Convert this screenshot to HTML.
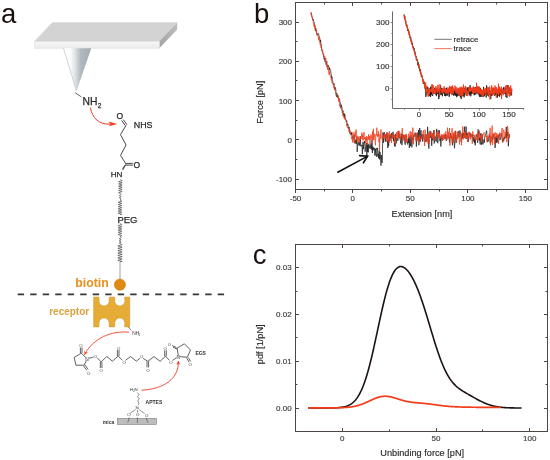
<!DOCTYPE html>
<html><head><meta charset="utf-8">
<style>
html,body{margin:0;padding:0;background:#fff;}
body{width:550px;height:460px;overflow:hidden;}
svg{display:block;font-family:"Liberation Sans",sans-serif;will-change:transform;filter:blur(0.3px);}
</style></head>
<body>
<svg width="550" height="460" viewBox="0 0 550 460">
<defs>
<linearGradient id="tipg" x1="63.5" y1="0" x2="91.3" y2="0" gradientUnits="userSpaceOnUse">
<stop offset="0" stop-color="#ffffff"/>
<stop offset="0.26" stop-color="#fbfbfb"/>
<stop offset="0.44" stop-color="#d9dfe1"/>
<stop offset="0.62" stop-color="#b0b9bd"/>
<stop offset="1" stop-color="#a2acb1"/>
</linearGradient>
<linearGradient id="sideg" x1="0" y1="0" x2="1" y2="0">
<stop offset="0" stop-color="#a4a4a4"/>
<stop offset="1" stop-color="#bdbdbd"/>
</linearGradient>
<linearGradient id="frontg" x1="0" y1="0" x2="0" y2="1">
<stop offset="0" stop-color="#f6f6f6"/>
<stop offset="1" stop-color="#ebebeb"/>
</linearGradient>
<marker id="ahr" viewBox="0 0 10 10" refX="9" refY="5" markerWidth="4.5" markerHeight="4.5" orient="auto">
<path d="M0,0 L10,5 L0,10 L3,5 z" fill="#f0402a"/>
</marker>
<marker id="ahk" viewBox="0 0 10 10" refX="9" refY="5" markerWidth="5" markerHeight="5" orient="auto">
<path d="M0,0 L10,5 L0,10 L3,5 z" fill="#111"/>
</marker>
</defs>

<!-- ================= PANEL A ================= -->
<text x="0.9" y="23.1" font-size="27.5" fill="#1a1010">a</text>

<!-- cantilever -->
<polygon points="34.6,41.4 52.2,22.7 177.2,22.7 159.3,41.4" fill="#d3d3d3" stroke="#c8c8c8" stroke-width="0.5"/>
<polygon points="159.3,41.4 177.2,22.7 177.2,29.6 159.3,48.2" fill="url(#sideg)"/>
<rect x="34.6" y="41.4" width="124.7" height="6.8" fill="url(#frontg)" stroke="#dcdcdc" stroke-width="0.5"/>
<!-- tip -->
<polygon points="63.5,48.2 91.3,48.2 76.5,91" fill="url(#tipg)"/>
<line x1="63.5" y1="48.2" x2="76.5" y2="91" stroke="#b8b8b8" stroke-width="0.6"/>

<g stroke="#3a3a3a" stroke-width="0.8" fill="none">
<line x1="75.2" y1="92.8" x2="81.4" y2="96.9"/>
</g>
<g fill="#2a2a2a" stroke="#2a2a2a" stroke-width="0.25">
<text x="82.5" y="105.2" font-size="10.3">NH</text>
<text x="97.7" y="108.2" font-size="6.6">2</text>
</g>
<!-- red arrow 1 -->
<path d="M90.3,107.5 C92.5,118 98.5,124.6 110,124.1" stroke="#f23c22" stroke-width="1" fill="none"/><path d="M117.3,123.9 L108.4,121.6 L110.6,124 L108.8,126.3 Z" fill="#f23c22"/>

<!-- NHS ester chain -->
<g fill="#2a2a2a" stroke="#2a2a2a" stroke-width="0.25">
<text x="116.4" y="118.7" font-size="8.5">O</text>
<text x="133.8" y="128.4" font-size="8.9">NHS</text>
<text x="133.4" y="168.3" font-size="8.5">O</text>
<text x="110.7" y="177.3" font-size="8.1">HN</text>
<text x="117.4" y="222.8" font-size="9.5">PEG</text>
</g>
<g stroke="#333" stroke-width="0.9" fill="none" stroke-linejoin="round">
<path d="M121.6,120.4 L125.2,125.4"/>
<path d="M123.3,119.6 L126.9,124.6"/>
<path d="M126.1,125.3 L120.5,134.6 L126.1,145 L120.5,155.4 L126.1,164.1 L122.6,170.2"/>
<path d="M126.1,163.4 L132.8,163.4"/>
<path d="M126.1,165.1 L132.8,165.1"/>
<path d="M122.4,168.6 L125.4,165"/>
</g>
<!-- PEG zigzag -->
<path d="M120.4,179.5 L122.2,180.6 L118.6,181.7 L122.2,182.8 L118.6,183.9 L122.2,185 L118.6,186.1 L122.2,187.2 L118.6,188.3 L122.2,189.4 L118.6,190.5 L122.2,191.6 L118.6,192.7 L120.4,193.5 M120.2,193.5 L121.1,194.6 L119.3,195.7 L121.1,196.8 L119.3,197.9 L121.1,199 L120.2,200 M120,200 L121.8,201.1 L118.2,202.2 L121.8,203.3 L118.2,204.4 L121.8,205.5 L118.2,206.6 L121.8,207.7 L118.2,208.8 L121.8,209.9 L118.2,211 L121.8,212.1 L118.2,213.2 L121.8,214.3 L120,214.5 M120,223.5 L121.8,224.6 L118.2,225.7 L121.8,226.8 L118.2,227.9 L121.8,229 L118.2,230.1 L121.8,231.2 L118.2,232.3 L121.8,233.4 L118.2,234.5 L121.8,235.6 L120,236.5 M120.2,236.5 L121.2,237.6 L119.2,238.7 L121.2,239.8 L119.2,240.9 L121.2,242 L119.2,243.1 L120.2,243.5 M120,243.5 L122.2,244.7 L117.8,245.9 L122.2,247.1 L117.8,248.3 L122.2,249.5 L117.8,250.7 L122.2,251.9 L117.8,253.1 L122.2,254.3 L117.8,255.5 L122.2,256.7 L117.8,257.9 L122.2,259.1 L117.8,260.3 L122.2,261.5 L120,261.5" stroke="#333" stroke-width="0.6" fill="none"/>
<line x1="120" y1="261.5" x2="120" y2="279.5" stroke="#a0a0a0" stroke-width="1"/>

<!-- biotin -->
<text x="75.3" y="286.8" font-size="12.3" font-weight="bold" fill="#e8901a">biotin</text>
<circle cx="119.9" cy="284.7" r="5.6" fill="#e08a14" stroke="#cf7d10" stroke-width="0.6"/>

<!-- dashed line -->
<line x1="17.7" y1="294.4" x2="224.2" y2="294.4" stroke="#3b3533" stroke-width="1.8" stroke-dasharray="6.4 6.1"/>

<!-- receptor -->
<text x="49.2" y="315.2" font-size="10" font-weight="bold" fill="#d8a23e">receptor</text>
<path d="M93.7,297.1 H99 V301 A5.1,5.1 0 0 0 109.2,301 V297.1 H114.7 V301 A5.05,5.05 0 0 0 124.8,301 V297.1 H129.7 V326.9 H124.8 V323 A5.05,5.05 0 0 0 114.7,323 V326.9 H109.2 V323 A5.1,5.1 0 0 0 99,323 V326.9 H93.7 Z" fill="#e6ad36" stroke="#d39a24" stroke-width="0.6"/>
<line x1="128.4" y1="326.9" x2="131.2" y2="330.4" stroke="#333" stroke-width="0.6"/>
<text x="132.2" y="335" font-size="4.8" fill="#333">NH</text>
<text x="138.6" y="336.4" font-size="3.3" fill="#333">2</text>
<!-- red arrow 2 -->
<path d="M129,332.2 C112,330.5 93,338 84.6,354.6" stroke="#f0402a" stroke-width="0.9" fill="none" marker-end="url(#ahr)"/>

<!-- EGS molecule -->
<g stroke="#383838" stroke-width="0.8" fill="none" stroke-linejoin="round">
<!-- left ring -->
<path d="M87.4,359 L81.2,353.2 L74.2,357.4 L75.9,365.2 L84.1,365.2 Z"/>
<path d="M80.4,353 V347.4 M82,353 V347.4"/>
<path d="M83.6,366 L86.8,370.3 M85,365 L88.1,369.3"/>
<path d="M88.5,358.4 L93.6,357"/>
<path d="M97.2,357.8 L101.1,361.9 L106.8,356.5 L112.4,361.2 L118.2,356.1 L122.6,360.5"/>
<path d="M125.5,360.4 L130.5,356.5 L136.4,361.2 L140,358.2"/>
<path d="M143.2,358.4 L147.8,361.3 L154,356.6 L160.1,361.3 L165.5,356.2 L169.4,360.4"/>
<path d="M172.6,360.4 L177.3,357.2"/>
<path d="M100.3,362 V368 M101.9,362 V368"/>
<path d="M117.4,356 V350 M119,356 V350"/>
<path d="M147,361.4 V367.4 M148.6,361.4 V367.4"/>
<path d="M164.7,356.2 V350.2 M166.3,356.2 V350.2"/>
<!-- right ring -->
<path d="M178.5,356.5 L177.1,348.2 L184.4,343.8 L190.5,350 L187.3,357.3 Z"/>
<path d="M176.4,347.5 L172.2,345.6 M177.2,349.1 L173,347.2"/>
<path d="M186.8,358.3 L189.2,362.3 M188.3,357.6 L190.6,361.4"/>
</g>
<g fill="#3a3a3a" font-size="4.3" stroke="#fff" stroke-width="0.6" paint-order="stroke">
<text x="79.2" y="347.2">O</text>
<text x="87.1" y="375">O</text>
<text x="85.3" y="360.6" font-size="4.8">N</text>
<text x="93.6" y="358.4">O</text>
<text x="99.5" y="372.4">O</text>
<text x="116.9" y="350">O</text>
<text x="122.4" y="363.6">O</text>
<text x="140" y="358.4">O</text>
<text x="146.2" y="371.8">O</text>
<text x="163.5" y="349.7">O</text>
<text x="169.3" y="363.8">O</text>
<text x="176.6" y="359.1" font-size="4.8">N</text>
<text x="167.8" y="346.1">O</text>
<text x="188.6" y="366.4">O</text>
</g>
<text x="195.4" y="355" font-size="5" font-weight="bold" fill="#333">EGS</text>

<!-- red arrow 3 (APTES -> EGS) -->
<path d="M141.5,390.2 C165,389 179,378 178.3,361.2" stroke="#f0402a" stroke-width="0.9" fill="none" marker-end="url(#ahr)"/>

<!-- APTES -->
<rect x="117.4" y="418.3" width="39" height="6.2" fill="#bdbdbd" stroke="#808080" stroke-width="0.6"/>
<g fill="#333">
<text x="129.8" y="391.4" font-size="4.4">H</text>
<text x="133.1" y="392.4" font-size="3">2</text>
<text x="134.6" y="391.4" font-size="4.4">N</text>
<text x="135.3" y="409.4" font-size="4.4">Si</text>
<text x="145.6" y="404.3" font-size="5" font-weight="bold">APTES</text>
<text x="127.3" y="416.4" font-size="4.4">O</text>
<text x="135.9" y="416.4" font-size="4.4">O</text>
<text x="145" y="417" font-size="4.4">O</text>
<text x="102.8" y="423.6" font-size="5.1" font-weight="bold">mica</text>
</g>
<g stroke="#444" stroke-width="0.6" fill="none">
<path d="M137.3,392.5 L139,394.5 L137.5,396.6 L139.2,398.8 L137.8,401 L139,403.6 L138,405.2"/>
<path d="M135.5,409.6 L130.3,413.2 M137.5,410 V412.6 M139.2,409.6 L144.6,413.6"/>
<path d="M129.3,417.4 L127.8,422.5 M137.4,417.4 V423 M146.2,417.8 L147.8,422.8"/>
</g>


<!-- ================= PANEL B ================= -->
<text x="254" y="22.5" font-size="27.5" fill="#1a1010">b</text>
<rect x="295.5" y="2.5" width="252" height="187" fill="none" stroke="#4d4542" stroke-width="1"/>
<path d="M295.5,179.5 h3.5 M547.5,179.5 h-3.5 M295.5,159.5 h2 M547.5,159.5 h-2 M295.5,139.5 h3.5 M547.5,139.5 h-3.5 M295.5,120.5 h2 M547.5,120.5 h-2 M295.5,100.5 h3.5 M547.5,100.5 h-3.5 M295.5,80.5 h2 M547.5,80.5 h-2 M295.5,61.5 h3.5 M547.5,61.5 h-3.5 M295.5,41.5 h2 M547.5,41.5 h-2 M295.5,22.5 h3.5 M547.5,22.5 h-3.5 M295.5,2.5 v3.5 M295.5,189.5 v3.5 M324.5,2.5 v2 M324.5,189.5 v2 M352.5,2.5 v3.5 M352.5,189.5 v3.5 M381.5,2.5 v2 M381.5,189.5 v2 M410.5,2.5 v3.5 M410.5,189.5 v3.5 M439.5,2.5 v2 M439.5,189.5 v2 M467.5,2.5 v3.5 M467.5,189.5 v3.5 M496.5,2.5 v2 M496.5,189.5 v2 M525.5,2.5 v3.5 M525.5,189.5 v3.5" stroke="#4d4845" stroke-width="1" fill="none"/>
<g font-size="8" fill="#3a3a3a" stroke="#3a3a3a" stroke-width="0.15" text-anchor="end">
<text x="292" y="25.1">300</text>
<text x="292" y="64.4">200</text>
<text x="292" y="103.7">100</text>
<text x="292" y="143">0</text>
<text x="292" y="182.3">-100</text>
</g>
<g font-size="8" fill="#3a3a3a" stroke="#3a3a3a" stroke-width="0.15" text-anchor="middle">
<text x="295.5" y="201.3">-50</text>
<text x="352.8" y="201.3">0</text>
<text x="410.3" y="201.3">50</text>
<text x="467.9" y="201.3">100</text>
<text x="525.4" y="201.3">150</text>
</g>
<text x="422" y="216.6" font-size="9.2" fill="#2a2a2a" stroke="#2a2a2a" stroke-width="0.15" text-anchor="middle">Extension [nm]</text>
<text transform="translate(263.4,102.2) rotate(-90)" font-size="9.2" fill="#2a2a2a" stroke="#2a2a2a" stroke-width="0.15" text-anchor="middle">Force [pN]</text>

<polyline points="310.92,12.95 311.27,14.45 311.61,14.34 311.96,16.61 312.3,17.87 312.65,19.98 312.99,20.03 313.34,19.17 313.68,21.51 314.03,21.83 314.37,24.38 314.72,25.44 315.06,27.02 315.41,31.08 315.75,28.15 316.1,29.57 316.44,30.3 316.79,34.32 317.13,34.89 317.48,33.99 317.82,33.8 318.17,33.17 318.52,34.47 318.86,34.53 319.21,37.52 319.55,37.4 319.9,38.81 320.24,42.13 320.59,40.13 320.93,43.72 321.28,44.46 321.62,49.02 321.97,50.86 322.31,51.8 322.66,52.92 323,53.16 323.35,55.08 323.69,57.39 324.04,59.31 324.38,59.63 324.73,57.81 325.07,61.81 325.42,60.87 325.76,61.21 326.11,64.79 326.45,62.9 326.8,61.42 327.14,67.14 327.49,65.01 327.83,65.24 328.18,66.99 328.52,65.64 328.87,67.32 329.21,70.41 329.56,67.79 329.91,69.12 330.25,69.83 330.6,70.27 330.94,73.24 331.29,74.92 331.63,78.48 331.98,76.81 332.32,80.07 332.67,81.13 333.01,83.69 333.36,84.48 333.7,85.01 334.05,83.33 334.39,89.7 334.74,89.9 335.08,88.32 335.43,87.48 335.77,89.87 336.12,94.78 336.46,96.76 336.81,93.23 337.15,95.94 337.5,97.54 337.84,95.23 338.19,96.03 338.53,98.51 338.88,99.37 339.22,100.07 339.57,99.26 339.91,101.8 340.26,102.96 340.6,103.93 340.95,108.26 341.3,104.8 341.64,106.32 341.99,108 342.33,112.94 342.68,111.84 343.02,110.52 343.37,115.69 343.71,114.13 344.06,113.24 344.4,117.89 344.75,114.29 345.09,116.94 345.44,119.03 345.78,119.26 346.13,119.73 346.47,121.53 346.82,120.89 347.16,124.7 347.51,125.28 347.85,123.95 348.2,126.5 348.54,128.87 348.89,126.95 349.23,127.07 349.58,131.01 349.92,133.68 350.27,132.99 350.61,132.89 350.96,134.5 351.3,134.88 351.65,132.31 351.99,135.83 352.34,136.14 352.68,138.08 353.03,138.26 353.38,138.19 353.72,139.12 354.07,134.56 354.41,140.46 354.76,143.25 355.1,143.33 355.45,142.4 355.79,139.54 356.14,144.02 356.48,141.77 356.83,137.03 357.17,151.85 357.52,147.15 357.86,142.69 358.21,142.29 358.55,142.93 358.9,145.28 359.24,141.77 359.59,143.13 359.93,145.92 360.28,136.17 360.62,143.22 360.97,146.37 361.31,144.96 361.66,145.49 362,145.06 362.35,154.08 362.69,146.7 363.04,141.82 363.38,149.23 363.73,145.69 364.07,142.43 364.42,142.9 364.77,140.92 365.11,151.73 365.46,147.38 365.8,147.48 366.15,144.41 366.49,142.99 366.84,155.74 367.18,143.29 367.53,151.91 367.87,144.93 368.22,152.35 368.56,146.92 368.91,143.66 369.25,148.3 369.6,147.31 369.94,145.43 370.29,147.76 370.63,148.68 370.98,143.41 371.32,145.18 371.67,149.83 372.01,139.85 372.36,153.03 372.7,146.31 373.05,150.42 373.39,149.27 373.74,147.52 374.08,149.31 374.43,148.09 374.77,155.49 375.12,155.6 375.46,148.68 375.81,154.12 376.16,154.74 376.5,156.63 376.85,147.89 377.19,150.04 377.54,148.02 377.88,156.48 378.23,153.83 378.57,158.3 378.92,152.58 379.26,150.49 379.61,159.42 379.95,151.89 380.3,154.46 380.64,159.01 380.99,165.66 381.33,154.99 381.68,160.64 382.02,162.95 382.37,160.23 382.71,136.91 383.06,132.42 383.4,142.8 383.75,133.9 384.09,132.44 384.51,132.58 384.92,139.31 385.34,141.63 385.75,134.35 386.16,138.07 386.58,138.02 386.99,132.65 387.41,139.61 387.82,147.99 388.24,140.11 388.65,146.15 389.06,135.12 389.48,137.18 389.89,141 390.31,138.51 390.72,135.03 391.13,138.13 391.55,132.98 391.96,138.7 392.38,134.15 392.79,132.28 393.21,131.78 393.62,141.19 394.03,134.78 394.45,146.14 394.86,142.87 395.28,146.49 395.69,133.97 396.1,143.46 396.52,138.42 396.93,139.15 397.35,138.47 397.76,140.79 398.18,137.37 398.59,130.94 399,138.14 399.42,136.13 399.83,134.18 400.25,139.12 400.66,143.49 401.07,140.58 401.49,133.85 401.9,145.07 402.32,140.74 402.73,134.1 403.15,134.98 403.56,138.22 403.97,134.92 404.39,137.55 404.8,143.09 405.22,144.67 405.63,140.85 406.05,134.4 406.46,140.53 406.87,141.91 407.29,141.36 407.7,144.5 408.12,138.65 408.53,143.03 408.94,136.65 409.36,147.89 409.77,136.79 410.19,140.78 410.6,146.14 411.02,135.13 411.43,139.25 411.84,147.31 412.26,141.71 412.67,136.89 413.09,139.98 413.5,134.86 413.91,134.99 414.33,135.31 414.74,136.71 415.16,132.55 415.57,135.32 415.99,136.17 416.4,146.63 416.81,134.32 417.23,132.61 417.64,139.23 418.06,139.94 418.47,129.99 418.88,145.24 419.3,136.04 419.71,127.97 420.13,141.79 420.54,135.11 420.96,130.17 421.37,138.44 421.78,135.62 422.2,134.2 422.61,141.66 423.03,138.28 423.44,136.7 423.85,134.49 424.27,138.04 424.68,138.69 425.1,142.07 425.51,139.35 425.93,134.19 426.34,137.44 426.75,141.37 427.17,141.32 427.58,126.83 428,133.13 428.41,135.19 428.83,148.52 429.24,135.24 429.65,135.82 430.07,130.84 430.48,136.02 430.9,138.06 431.31,135.62 431.72,145.79 432.14,133.5 432.55,136.41 432.97,140.64 433.38,132.27 433.8,130.26 434.21,143.51 434.62,140.47 435.04,136.51 435.45,136.95 435.87,139.34 436.28,141.71 436.69,128.93 437.11,133.39 437.52,142.59 437.94,143.21 438.35,130.62 438.77,133.56 439.18,130.12 439.59,134.29 440.01,141.22 440.42,136.54 440.84,146.52 441.25,140.69 441.66,137.84 442.08,135.43 442.49,140.58 442.91,138.09 443.32,135.68 443.74,136.01 444.15,134.92 444.56,136.68 444.98,138.88 445.39,134.28 445.81,137.32 446.22,140.93 446.63,140.09 447.05,137.51 447.46,137.95 447.88,136.84 448.29,137.49 448.71,136.75 449.12,138.02 449.53,142.65 449.95,135.72 450.36,133.1 450.78,135.65 451.19,138.21 451.6,135.58 452.02,141.4 452.43,145.24 452.85,137.16 453.26,141.24 453.68,134.34 454.09,141.86 454.5,148.22 454.92,141.66 455.33,130.85 455.75,138.93 456.16,143 456.58,140.49 456.99,135.19 457.4,135.28 457.82,136.59 458.23,131.19 458.65,134.39 459.06,137.39 459.47,134.83 459.89,130.46 460.3,133.27 460.72,133.05 461.13,141.73 461.55,137.87 461.96,134.24 462.37,138.47 462.79,132.82 463.2,134.77 463.62,133.47 464.03,138.09 464.44,126.7 464.86,132.08 465.27,138.08 465.69,136.81 466.1,126.47 466.52,138.59 466.93,133.56 467.34,133.11 467.76,137.12 468.17,141.96 468.59,136.36 469,135.65 469.41,132.46 469.83,133.88 470.24,137.01 470.66,133.58 471.07,134.87 471.49,136.24 471.9,136.85 472.31,138.08 472.73,134.23 473.14,141.41 473.56,139.65 473.97,137.02 474.38,143.08 474.8,138.83 475.21,145.31 475.63,139.83 476.04,134.66 476.46,134.66 476.87,137.22 477.28,137.95 477.7,142.83 478.11,129.43 478.53,134.84 478.94,132.45 479.35,140.59 479.77,137.71 480.18,144.45 480.6,133.71 481.01,133.07 481.43,144.75 481.84,137.13 482.25,134.3 482.67,144.17 483.08,144.42 483.5,141.28 483.91,139.47 484.33,142.66 484.74,136.73 485.15,135.82 485.57,134.23 485.98,133.94 486.4,130.63 486.81,132.02 487.22,142.23 487.64,138.9 488.05,141.18 488.47,141.24 488.88,137.13 489.3,136.76 489.71,134.75 490.12,143.32 490.54,141.87 490.95,136.85 491.37,137.57 491.78,138.02 492.19,136.99 492.61,139.86 493.02,133.83 493.44,135.25 493.85,137.07 494.27,139.47 494.68,137.41 495.09,147.91 495.51,140.73 495.92,136.52 496.34,142.87 496.75,135.83 497.16,136.04 497.58,142.33 497.99,137.67 498.41,137.92 498.82,134.72 499.24,134.09 499.65,136.76 500.06,140.11 500.48,137.19 500.89,136.85 501.31,133.55 501.72,135.36 502.13,139.55 502.55,142.15 502.96,138.09 503.38,139.6 503.79,141.12 504.21,137.01 504.62,138.55 505.03,136.08 505.45,134.35 505.86,138.2 506.28,126.9 506.69,137.81 507.11,131.93 507.52,135.97 507.93,131.86 508.35,146.26 508.76,139.55 509.18,135.42 509.59,133.95" fill="none" stroke="#1e1e1e" stroke-width="0.75" stroke-linejoin="round"/>
<polyline points="310.92,14.8 311.27,12.23 311.61,16.5 311.96,16.1 312.3,18 312.65,18.82 312.99,20.61 313.34,22.75 313.68,22.81 314.03,26.4 314.37,23.94 314.72,28.5 315.06,27.6 315.41,25.75 315.75,30.53 316.1,31.24 316.44,30.54 316.79,33.42 317.13,35.82 317.48,35.23 317.82,35.82 318.17,36.7 318.52,40.12 318.86,37.24 319.21,38.46 319.55,42.14 319.9,42.83 320.24,45.01 320.59,43.2 320.93,47.61 321.28,46.53 321.62,49.42 321.97,50.84 322.31,49.7 322.66,49.81 323,53 323.35,55.12 323.69,53.86 324.04,56.29 324.38,56.8 324.73,55.96 325.07,57.65 325.42,61.32 325.76,57.98 326.11,62.64 326.45,62.47 326.8,65.79 327.14,65.91 327.49,69.66 327.83,65.16 328.18,66.89 328.52,72.01 328.87,73.53 329.21,74.77 329.56,71.43 329.91,75.06 330.25,75.49 330.6,76.94 330.94,77.7 331.29,80.27 331.63,79.57 331.98,82.92 332.32,81.83 332.67,82.28 333.01,83.07 333.36,85.22 333.7,87.32 334.05,86.69 334.39,88.75 334.74,86.57 335.08,88.86 335.43,91.29 335.77,92.88 336.12,94.28 336.46,95.68 336.81,95.8 337.15,95.81 337.5,96.49 337.84,97.43 338.19,96.05 338.53,101.49 338.88,101.38 339.22,98.03 339.57,106.37 339.91,105.28 340.26,105.2 340.6,106.24 340.95,106.85 341.3,108.88 341.64,108.94 341.99,110.43 342.33,110.3 342.68,115.49 343.02,114.91 343.37,114.51 343.71,117.12 344.06,118.14 344.4,116.49 344.75,119.49 345.09,118.45 345.44,119.25 345.78,120.92 346.13,121.57 346.47,123.5 346.82,126.52 347.16,125.31 347.51,125.51 347.85,128.01 348.2,128.28 348.54,127.89 348.89,131.38 349.23,129.93 349.58,130.02 349.92,132.84 350.27,130.64 350.61,134.53 350.96,135.53 351.3,136.32 351.65,139.25 351.99,137.16 352.34,137.47 352.68,142.45 353.03,132.36 353.38,140.07 353.72,141.74 354.07,142.99 354.41,142.47 354.76,136.65 355.1,131.58 355.45,136.29 355.79,136.97 356.14,129.54 356.48,139.81 356.83,140.38 357.17,135.89 357.52,135.81 357.86,141.64 358.21,142.21 358.55,136.75 358.9,136.91 359.24,142.7 359.59,138.57 359.93,139.84 360.28,136.09 360.62,138.24 360.97,138.12 361.31,139.11 361.66,133.85 362,132.59 362.35,139.14 362.69,134.61 363.04,140.59 363.38,137.49 363.73,134.95 364.07,132.09 364.42,139.16 364.77,138.01 365.11,136.99 365.46,143.31 365.8,137.65 366.15,140.23 366.49,136.31 366.84,141.91 367.18,145.07 367.53,137.54 367.87,136.7 368.22,139.72 368.56,134.35 368.91,138.68 369.25,139.92 369.6,135.86 369.94,143.5 370.29,140.17 370.63,137.71 370.98,134.46 371.32,138.23 371.67,136.46 372.01,140.05 372.36,136.47 372.7,131.38 373.05,140.15 373.39,128.75 373.74,139.98 374.08,137.51 374.43,136.92 374.77,133.74 375.12,142.17 375.46,145.39 375.81,135.28 376.16,134.57 376.5,135.2 376.85,127.7 377.19,136.75 377.54,136.56 377.88,134.04 378.23,136.12 378.57,131.28 378.92,142.11 379.26,138.88 379.61,150.34 379.95,134.44 380.3,138.86 380.64,134.01 380.99,129.41 381.33,137.47 381.68,138.39 382.02,139.3 382.37,140.56 382.71,139.78 383.06,135.03 383.4,137.27 383.75,137.16 384.09,138.05 384.51,133.98 384.92,135.54 385.34,137.91 385.75,134.89 386.16,137.93 386.58,141.66 386.99,131.92 387.41,135.61 387.82,140.91 388.24,133.3 388.65,136.03 389.06,143.16 389.48,131.3 389.89,136.06 390.31,133.97 390.72,136.55 391.13,137.84 391.55,143.05 391.96,133.64 392.38,137.15 392.79,138.32 393.21,135.93 393.62,136.95 394.03,134.71 394.45,138.61 394.86,137.35 395.28,145.2 395.69,138.78 396.1,134.67 396.52,132.2 396.93,138.54 397.35,137.63 397.76,131.26 398.18,138.38 398.59,134.41 399,130.88 399.42,136.99 399.83,132.55 400.25,139.78 400.66,136.34 401.07,137.4 401.49,136.67 401.9,132.88 402.32,128.17 402.73,139.57 403.15,139.22 403.56,135.21 403.97,141 404.39,135.2 404.8,134.91 405.22,138.08 405.63,135.05 406.05,142.81 406.46,134.18 406.87,142.78 407.29,139.6 407.7,139.07 408.12,138.49 408.53,133.78 408.94,136.67 409.36,138.45 409.77,134.93 410.19,131.05 410.6,136.92 411.02,135.58 411.43,132.31 411.84,135.93 412.26,141.71 412.67,127.61 413.09,128.66 413.5,144.31 413.91,137.04 414.33,135.33 414.74,133.27 415.16,134.37 415.57,137.88 415.99,140.79 416.4,136.46 416.81,132.98 417.23,140.9 417.64,140.66 418.06,136.91 418.47,144.05 418.88,137.78 419.3,138.43 419.71,135.11 420.13,139.41 420.54,140.07 420.96,138.24 421.37,136.95 421.78,139.24 422.2,136.7 422.61,133.94 423.03,132.31 423.44,130.36 423.85,139.65 424.27,138.28 424.68,145.98 425.1,129.61 425.51,139.4 425.93,136.81 426.34,134.73 426.75,141.74 427.17,134.93 427.58,136.76 428,143.47 428.41,135.55 428.83,132.18 429.24,143.6 429.65,133.61 430.07,135.83 430.48,134.84 430.9,134.95 431.31,131.73 431.72,137.42 432.14,133.32 432.55,138.1 432.97,133.85 433.38,139.6 433.8,136.96 434.21,130.08 434.62,134.87 435.04,137.12 435.45,140.8 435.87,139.47 436.28,135.79 436.69,132.99 437.11,134.9 437.52,134.53 437.94,136.64 438.35,131.43 438.77,137.93 439.18,138.51 439.59,133.14 440.01,136.21 440.42,137.48 440.84,138.58 441.25,137.38 441.66,134.09 442.08,135.09 442.49,140.92 442.91,134.8 443.32,135.72 443.74,140.12 444.15,133.49 444.56,137.41 444.98,137.61 445.39,133.38 445.81,131.42 446.22,138.91 446.63,134.7 447.05,139.6 447.46,127.68 447.88,138.15 448.29,131.84 448.71,138.71 449.12,133.26 449.53,128 449.95,145.76 450.36,137.89 450.78,134.39 451.19,136.6 451.6,138.74 452.02,128.21 452.43,135.94 452.85,142.37 453.26,133.03 453.68,142.64 454.09,131.91 454.5,138.35 454.92,135.65 455.33,131.48 455.75,135.74 456.16,141.36 456.58,142.49 456.99,131.74 457.4,133.38 457.82,139.19 458.23,132.93 458.65,134.27 459.06,133.7 459.47,144.55 459.89,137.23 460.3,132.74 460.72,133.35 461.13,132.79 461.55,145.25 461.96,135.44 462.37,134.23 462.79,126.53 463.2,139.61 463.62,137.27 464.03,135.9 464.44,132.72 464.86,137.68 465.27,131.73 465.69,138.95 466.1,135 466.52,137.96 466.93,135.4 467.34,138.56 467.76,141.94 468.17,131.88 468.59,134.82 469,138.04 469.41,135.19 469.83,132.24 470.24,139.58 470.66,136.33 471.07,133.9 471.49,133.94 471.9,137.15 472.31,143.76 472.73,131.25 473.14,134.65 473.56,135.82 473.97,136.91 474.38,134.87 474.8,137.44 475.21,139.67 475.63,138.6 476.04,138.06 476.46,138.11 476.87,140.14 477.28,133.43 477.7,140.69 478.11,133.33 478.53,139.58 478.94,134.46 479.35,130.64 479.77,135.01 480.18,138.49 480.6,135.57 481.01,135.19 481.43,142.21 481.84,138 482.25,135.12 482.67,137.47 483.08,135.41 483.5,132.96 483.91,132.83 484.33,132.31 484.74,133.48 485.15,136.75 485.57,135.74 485.98,136.67 486.4,136.82 486.81,136.32 487.22,142.08 487.64,136.88 488.05,135.71 488.47,139.25 488.88,135.7 489.3,133.68 489.71,136.21 490.12,127.84 490.54,145.31 490.95,136.35 491.37,142.38 491.78,131.9 492.19,125.64 492.61,144.89 493.02,135.06 493.44,133.59 493.85,136.66 494.27,133.46 494.68,143.89 495.09,132.32 495.51,134.11 495.92,135.41 496.34,137.68 496.75,133.09 497.16,137.28 497.58,134.63 497.99,137.36 498.41,143.84 498.82,135.56 499.24,134.68 499.65,132.61 500.06,138.69 500.48,135.54 500.89,133.1 501.31,134.86 501.72,130.75 502.13,127.95 502.55,138.77 502.96,142.54 503.38,132.16 503.79,129.65 504.21,131.91 504.62,132.3 505.03,137.64 505.45,137.99 505.86,132 506.28,138.72 506.69,142.08 507.11,139.02 507.52,125.99 507.93,128.1 508.35,137.84 508.76,137.99 509.18,134.4 509.59,138.05" fill="none" stroke="#f23c1c" stroke-width="0.75" stroke-linejoin="round"/>
<g stroke="#111" stroke-width="1.6" fill="none" stroke-linecap="round" stroke-linejoin="miter"><line x1="337.8" y1="172.2" x2="367.2" y2="156.4"/><path d="M359.6,155.6 L367.6,156.2 L363.4,162.8"/></g>

<!-- inset -->
<path d="M392.5,11.4 V108.5 H524.1" fill="none" stroke="#6e6a68" stroke-width="1"/>
<path d="M392.5,99.5 h-1.2 M392.5,88.5 h-2 M392.5,77.5 h-1.2 M392.5,66.5 h-2 M392.5,55.5 h-1.2 M392.5,44.5 h-2 M392.5,33.5 h-1.2 M392.5,22.5 h-2 M404.5,108.5 v1.2 M419.5,108.5 v2 M434.5,108.5 v1.2 M449.5,108.5 v2 M464.5,108.5 v1.2 M479.5,108.5 v2 M493.5,108.5 v1.2 M508.5,108.5 v2 M523.5,108.5 v1.2" stroke="#6e6a68" stroke-width="0.8" fill="none"/>
<g font-size="8" fill="#333" stroke="#333" stroke-width="0.15" text-anchor="end">
<text x="389.4" y="25.2">300</text>
<text x="389.4" y="47">200</text>
<text x="389.4" y="68.8">100</text>
<text x="389.4" y="90.6">0</text>
</g>
<g font-size="8" fill="#333" stroke="#333" stroke-width="0.15" text-anchor="middle">
<text x="419.1" y="117">0</text>
<text x="449.1" y="117">50</text>
<text x="479" y="117">100</text>
<text x="509" y="117">150</text>
</g>
<polyline points="404.12,14.61 404.3,16.76 404.48,18.49 404.66,16.51 404.84,19.2 405.02,18.95 405.2,19.84 405.38,20.8 405.56,20.73 405.74,22.47 405.92,24.35 406.1,25.38 406.28,24.98 406.46,25.05 406.64,24.88 406.82,25.42 407,25.5 407.18,26.6 407.36,28.23 407.54,28.76 407.72,30.92 407.9,29.42 408.08,29.34 408.26,29.91 408.44,31.25 408.62,31.93 408.8,31.34 408.98,32.97 409.16,32.8 409.34,33.6 409.52,34.62 409.7,34.05 409.88,36.72 410.06,37.11 410.23,38.22 410.41,38.83 410.59,36.89 410.77,37.28 410.95,39.8 411.13,39.82 411.31,39.78 411.49,40.8 411.67,40.98 411.85,44.29 412.03,44.23 412.21,43.66 412.39,43.2 412.57,45.27 412.75,46.93 412.93,47 413.11,47.95 413.29,48.78 413.47,46.82 413.65,49.75 413.83,49.66 414.01,47.94 414.19,49.62 414.37,51.15 414.55,52.8 414.73,52.29 414.91,51.58 415.09,53.28 415.27,53.19 415.45,55.07 415.63,55.22 415.81,56.61 415.99,56.53 416.16,56.19 416.34,59.77 416.52,58.89 416.7,59.16 416.88,60.65 417.06,60.97 417.24,60.37 417.42,59.65 417.6,61.75 417.78,62.68 417.96,65.33 418.14,62.14 418.32,64.75 418.5,65.47 418.68,67.25 418.86,66.69 419.04,68.42 419.22,67.74 419.4,67.9 419.58,68.97 419.76,69.29 419.94,71.12 420.12,69.22 420.3,72.08 420.48,73.94 420.66,72.75 420.84,73.96 421.02,74.82 421.2,74.69 421.38,74.57 421.56,76.75 421.74,76.2 421.92,75.07 422.1,76.46 422.27,77.95 422.45,78.22 422.63,79.06 422.81,79.55 422.99,79.27 423.17,80.74 423.35,83.83 423.53,81.79 423.71,83.3 423.89,82.18 424.07,84.11 424.25,83.84 424.43,82.18 424.61,86.24 424.79,86.86 424.97,87.71 425.15,89.31 425.33,89.27 425.51,87.33 425.69,93.58 425.87,96.79 426.05,95.78 426.23,90.29 426.41,93.93 426.59,92.87 426.77,91.04 426.95,88.36 427.13,86.83 427.31,89.21 427.49,91.53 427.67,91.42 427.85,87.19 428.03,88.17 428.2,92.72 428.38,90.71 428.56,91.16 428.74,91.77 428.92,93.21 429.1,95.38 429.28,93.3 429.46,95.95 429.64,88.7 429.82,90.5 430,95.06 430.18,88.25 430.36,89.57 430.54,96.9 430.72,87.09 430.9,89.79 431.08,86.51 431.26,95.13 431.44,90.52 431.62,90.8 431.8,91.38 431.98,91.46 432.16,89.15 432.34,95.82 432.52,95.16 432.7,95.55 432.88,93.36 433.06,93.49 433.24,90.94 433.42,91.21 433.6,91.82 433.78,93.68 433.96,93.06 434.13,89.41 434.31,89.91 434.49,91.64 434.67,92.75 434.85,87.84 435.03,93.46 435.21,90.21 435.39,88.89 435.57,92.6 435.75,89.75 435.93,94.82 436.11,89.26 436.29,91.38 436.47,96.06 436.65,90.15 436.83,94.24 437.01,88.55 437.19,93.68 437.37,92.34 437.55,91.17 437.73,92.78 437.91,91.23 438.09,93.35 438.27,90.15 438.45,91.89 438.63,91.35 438.81,99.11 438.99,88.87 439.17,91.82 439.35,96.57 439.53,91.66 439.71,90.68 439.89,89.1 440.07,94.74 440.24,87.86 440.42,92.32 440.6,85.64 440.78,92.29 440.96,90.13 441.14,92.87 441.32,94.83 441.5,89.04 441.68,89.53 441.86,87.88 442.04,89.66 442.22,93.41 442.4,96.25 442.58,93.61 442.76,93.67 442.94,94.04 443.12,90.38 443.3,91.05 443.48,92.61 443.66,91.45 443.84,92.29 444.02,91.35 444.2,89.94 444.38,89.4 444.56,93.7 444.74,95.85 444.92,88.17 445.1,91.61 445.28,89.01 445.46,96.2 445.64,92.77 445.82,91.84 446,95.68 446.17,93.26 446.35,90.01 446.53,89.08 446.71,87.74 446.89,94.17 447.07,95.57 447.25,90.54 447.43,89.45 447.61,91.4 447.79,95.31 447.97,89.86 448.15,89.83 448.33,90.46 448.51,93.18 448.69,91.11 448.87,89.84 449.05,93.37 449.23,96.73 449.41,91.05 449.59,90.65 449.77,91.87 449.95,89.58 450.13,93.44 450.31,92.12 450.49,92.7 450.67,90.41 450.85,87.73 451.03,92.56 451.21,86.53 451.39,87.91 451.57,89.84 451.75,90.37 451.93,87.27 452.1,92.38 452.28,92.2 452.46,94.69 452.64,90.67 452.82,88.39 453,90.51 453.18,90.8 453.36,92.43 453.54,91.46 453.72,95.63 453.9,89.16 454.08,92.98 454.26,94.8 454.44,93.87 454.62,94.06 454.8,89.67 454.98,89.14 455.16,95.46 455.34,89.48 455.52,89.58 455.7,93.42 455.88,95.79 456.06,93.86 456.24,93.56 456.42,91.01 456.6,92.84 456.78,97.21 456.96,91.29 457.14,95.92 457.32,89.54 457.5,95.06 457.68,93.72 457.86,94.14 458.03,93.33 458.21,88.51 458.39,89.68 458.57,90.33 458.75,91.07 458.93,95.96 459.11,93.27 459.29,93.35 459.47,94.46 459.65,90.57 459.83,93.84 460.01,93.76 460.19,94.64 460.37,97.29 460.55,90.35 460.73,88.42 460.91,91.45 461.09,94.46 461.27,98.98 461.45,91.45 461.63,88.72 461.81,91.13 461.99,89.48 462.17,88.04 462.35,88.96 462.53,93.06 462.71,89.15 462.89,89.88 463.07,95.93 463.25,92.97 463.43,95.63 463.61,92.19 463.79,90.39 463.97,94.7 464.14,97.28 464.32,88.51 464.5,90.92 464.68,88.06 464.86,95.37 465.04,89.13 465.22,86.48 465.4,86.66 465.58,92.46 465.76,91.2 465.94,92.31 466.12,89.29 466.3,89.19 466.48,91.68 466.66,95.46 466.84,89.97 467.02,93.14 467.2,90.26 467.38,91.22 467.56,87.66 467.74,88.93 467.92,93.09 468.1,90.99 468.28,87.29 468.46,93.31 468.64,90.77 468.82,88.79 469,88.62 469.18,90.55 469.36,95.36 469.54,95.2 469.72,91.26 469.9,90.89 470.07,85.24 470.25,94.16 470.43,88.93 470.61,89.89 470.79,96.28 470.97,94.05 471.15,91.47 471.33,93.2 471.51,92.31 471.69,90.68 471.87,94.02 472.05,90.69 472.23,93.57 472.41,93.33 472.59,90.5 472.77,93.41 472.95,91.15 473.13,87.72 473.31,91.84 473.49,92.29 473.67,89.98 473.85,92.86 474.03,89.07 474.21,95.26 474.39,90.29 474.57,93.25 474.75,94 474.93,87.28 475.11,94.13 475.29,87.31 475.47,90.18 475.65,88.1 475.83,94.46 476,88.77 476.18,88.1 476.36,92.21 476.54,92.24 476.72,85.48 476.9,91.44 477.08,93.01 477.26,93.55 477.44,90.74 477.62,91.04 477.8,91.44 477.98,87.4 478.16,92.76 478.34,90.67 478.52,88.09 478.7,94.53 478.88,89.19 479.06,87.11 479.24,95.45 479.42,94.78 479.6,94.62 479.78,96.74 479.96,90.72 480.14,96.76 480.32,90.6 480.5,88.1 480.68,96.13 480.86,92.73 481.04,96.92 481.22,89.87 481.4,93.84 481.58,92.6 481.76,91.76 481.94,90.48 482.11,92.81 482.29,91.87 482.47,93.34 482.65,91.61 482.83,94.97 483.01,91.74 483.19,96.96 483.37,93.19 483.55,86.9 483.73,91.7 483.91,95.2 484.09,91.23 484.27,94.45 484.45,96.23 484.63,93.83 484.81,89.98 484.99,90.9 485.17,92.16 485.35,94.33 485.53,94.73 485.71,88.38 485.89,91.27 486.07,94.4 486.25,97.43 486.43,95.49 486.61,85.43 486.79,94.91 486.97,92.11 487.15,91.36 487.33,92.32 487.51,92.63 487.69,95.5 487.87,94.66 488.04,87.49 488.22,93.88 488.4,89.69 488.58,96.34 488.76,92.62 488.94,91.22 489.12,89.19 489.3,94.84 489.48,90.35 489.66,90.9 489.84,93.84 490.02,90.66 490.2,94.26 490.38,93.99 490.56,91.96 490.74,99.01 490.92,92.19 491.1,94.52 491.28,95.73 491.46,93.02 491.64,89.91 491.82,92.96 492,88.59 492.18,94.94 492.36,95.34 492.54,87.85 492.72,90.86 492.9,89.43 493.08,94.07 493.26,89.8 493.44,91.23 493.62,90.21 493.8,91.84 493.97,88.75 494.15,93.6 494.33,94.43 494.51,95.77 494.69,88.87 494.87,93.84 495.05,94.64 495.23,94.36 495.41,93.07 495.59,95.23 495.77,92.67 495.95,93.55 496.13,93.35 496.31,94.42 496.49,91.81 496.67,93.11 496.85,91.61 497.03,91.25 497.21,91.02 497.39,97.63 497.57,93.31 497.75,93.99 497.93,89.88 498.11,96.03 498.29,93.78 498.47,92.67 498.65,92.79 498.83,89.31 499.01,93.06 499.19,89.38 499.37,95.74 499.55,96.65 499.73,88.72 499.91,90.77 500.08,90.63 500.26,91.58 500.44,90.64 500.62,95.09 500.8,89.42 500.98,93.3 501.16,89.33 501.34,91.68 501.52,97.07 501.7,95.27 501.88,88.96 502.06,92.26 502.24,92.94 502.42,91.27 502.6,93.02 502.78,93.33 502.96,91.64 503.14,91.53 503.32,87.94 503.5,91.79 503.68,86.99 503.86,87.19 504.04,87.42 504.22,89.13 504.4,91.56 504.58,91.55 504.76,92.28 504.94,93.82 505.12,92.08 505.3,93.58 505.48,87.62 505.66,90.51 505.84,93.07 506.01,96.92 506.19,92.05 506.37,92.99 506.55,94.75 506.73,94.88 506.91,97.79 507.09,90.42 507.27,92.08 507.45,85.15 507.63,91.99 507.81,92.29 507.99,88.13 508.17,91.56 508.35,91.47 508.53,92.88 508.71,93.49 508.89,87.98 509.07,89.29 509.25,87.42 509.43,92.82 509.61,91.83 509.79,94.21 509.97,89.38 510.15,95.55 510.33,90.43 510.51,89.04 510.69,88.21 510.87,94.36 511.05,89.06 511.23,93.77 511.41,93.89 511.59,95.37 511.77,88.88" fill="none" stroke="#1e1e1e" stroke-width="0.9" stroke-linejoin="round"/>
<polyline points="404.12,14.25 404.3,17.32 404.48,18.13 404.66,18.3 404.84,15.83 405.02,18.1 405.2,20.42 405.38,22.41 405.56,21.82 405.74,20.42 405.92,20.31 406.1,23.26 406.28,24.35 406.46,24.78 406.64,26.91 406.82,24.49 407,27.29 407.18,25.58 407.36,29.22 407.54,29.37 407.72,28.3 407.9,30.07 408.08,29.01 408.26,30.48 408.44,32.39 408.62,31.06 408.8,31.44 408.98,35.07 409.16,31.62 409.34,33.69 409.52,34.03 409.7,37.5 409.88,36.88 410.06,37.1 410.23,36.17 410.41,39.55 410.59,39.55 410.77,41.41 410.95,40.08 411.13,40.06 411.31,42.9 411.49,42.32 411.67,41.74 411.85,41.19 412.03,42.81 412.21,44.48 412.39,46.05 412.57,46.4 412.75,46.72 412.93,46.45 413.11,47.28 413.29,46.02 413.47,48.14 413.65,50.24 413.83,48 414.01,49.26 414.19,50.8 414.37,52.3 414.55,54.17 414.73,53.85 414.91,52.36 415.09,54.83 415.27,56.01 415.45,54.96 415.63,55.52 415.81,55.73 415.99,56.29 416.16,56.07 416.34,59.13 416.52,57.75 416.7,60.5 416.88,59.27 417.06,60.43 417.24,60.97 417.42,60.78 417.6,62.45 417.78,61.82 417.96,62.68 418.14,64.09 418.32,65.45 418.5,66.25 418.68,66.61 418.86,66.85 419.04,67.25 419.22,64.57 419.4,67.72 419.58,68.17 419.76,70.54 419.94,70.96 420.12,71.13 420.3,71.16 420.48,73.09 420.66,70.79 420.84,73.75 421.02,72.54 421.2,76.85 421.38,74.89 421.56,75.16 421.74,75.84 421.92,75.97 422.1,76.9 422.27,77.6 422.45,80.42 422.63,79.71 422.81,82.05 422.99,79.39 423.17,80.3 423.35,81.42 423.53,82.66 423.71,82.96 423.89,80.88 424.07,81.56 424.25,84.06 424.43,83.14 424.61,86.82 424.79,87.74 424.97,86.7 425.15,87.65 425.33,87.83 425.51,87.52 425.69,82.47 425.87,92.11 426.05,90.25 426.23,89.66 426.41,90.47 426.59,87.94 426.77,85.74 426.95,93.63 427.13,89.96 427.31,91.07 427.49,89.45 427.67,94.39 427.85,94.98 428.03,96.44 428.2,89.01 428.38,89.88 428.56,90.19 428.74,96.57 428.92,91.36 429.1,92.36 429.28,94.08 429.46,92.78 429.64,88.55 429.82,88.96 430,90.44 430.18,89.03 430.36,91.96 430.54,90.19 430.72,90.27 430.9,88.93 431.08,90.56 431.26,90.75 431.44,90.73 431.62,92.07 431.8,84.54 431.98,89.03 432.16,89.26 432.34,84.39 432.52,86.71 432.7,94.45 432.88,88.56 433.06,88.19 433.24,85.45 433.42,86.94 433.6,88.36 433.78,93.46 433.96,92.66 434.13,89.68 434.31,89.06 434.49,93.05 434.67,91.39 434.85,91.43 435.03,90.22 435.21,89.5 435.39,91.13 435.57,93.62 435.75,87.13 435.93,86.2 436.11,90.66 436.29,87.7 436.47,89.22 436.65,88.65 436.83,89.12 437.01,92.38 437.19,88.88 437.37,87.74 437.55,92.72 437.73,85.24 437.91,84.91 438.09,85.61 438.27,85.18 438.45,88.44 438.63,91.27 438.81,91.95 438.99,92.51 439.17,90.08 439.35,90.47 439.53,88.63 439.71,95.66 439.89,84.33 440.07,84.42 440.24,90.45 440.42,88.61 440.6,89.14 440.78,89.66 440.96,90.93 441.14,90.7 441.32,92.54 441.5,89.91 441.68,90.44 441.86,89.54 442.04,92.62 442.22,90.28 442.4,90.25 442.58,88.8 442.76,93.16 442.94,89.28 443.12,87.81 443.3,88.82 443.48,91.34 443.66,91.67 443.84,91 444.02,88.47 444.2,86.32 444.38,90.79 444.56,92.06 444.74,89.4 444.92,89.85 445.1,92.76 445.28,92.31 445.46,90.65 445.64,88.62 445.82,93.5 446,93.04 446.17,89.07 446.35,93.58 446.53,90.1 446.71,89.46 446.89,90.67 447.07,93.04 447.25,90.54 447.43,91.25 447.61,89.5 447.79,92.57 447.97,87.52 448.15,94.76 448.33,90.84 448.51,90.36 448.69,87.86 448.87,91.97 449.05,88.95 449.23,91.86 449.41,88.45 449.59,85.84 449.77,91.43 449.95,89.22 450.13,92.81 450.31,87.83 450.49,87.21 450.67,90.29 450.85,93.35 451.03,89.33 451.21,87.37 451.39,87.53 451.57,88.25 451.75,95.17 451.93,92.16 452.1,86.66 452.28,93.59 452.46,87.42 452.64,85.46 452.82,88.39 453,87.45 453.18,91.25 453.36,93.59 453.54,90.65 453.72,90.9 453.9,90.5 454.08,88.56 454.26,90.76 454.44,89.88 454.62,89.27 454.8,90.39 454.98,85.56 455.16,89.22 455.34,90.16 455.52,90.92 455.7,92.02 455.88,86.86 456.06,89.99 456.24,93.2 456.42,91.85 456.6,90.74 456.78,91.55 456.96,87.54 457.14,93.42 457.32,89.09 457.5,90 457.68,93.46 457.86,90.26 458.03,90.63 458.21,89.07 458.39,91.56 458.57,89.59 458.75,94.74 458.93,93.21 459.11,88.33 459.29,87.66 459.47,90.41 459.65,91.95 459.83,87.55 460.01,95.85 460.19,92.47 460.37,88.62 460.55,88.67 460.73,93.08 460.91,95.32 461.09,86.58 461.27,89.98 461.45,92.72 461.63,90.24 461.81,88.02 461.99,97.16 462.17,87.48 462.35,88.44 462.53,95.82 462.71,88.36 462.89,95.04 463.07,87.4 463.25,89.34 463.43,84.49 463.61,91.98 463.79,90.37 463.97,87.64 464.14,92.05 464.32,92.22 464.5,91.35 464.68,90.57 464.86,93.21 465.04,89.11 465.22,88.96 465.4,90.19 465.58,85.93 465.76,91.24 465.94,86.96 466.12,91.81 466.3,88.4 466.48,95.44 466.66,89.86 466.84,90.84 467.02,91.67 467.2,91.98 467.38,91.29 467.56,92.26 467.74,96.12 467.92,91.94 468.1,91.82 468.28,91.75 468.46,93.15 468.64,90.73 468.82,88.33 469,91.03 469.18,91.67 469.36,86.83 469.54,87.82 469.72,87.97 469.9,87.36 470.07,91.24 470.25,90.72 470.43,87.47 470.61,91.83 470.79,90.69 470.97,89.39 471.15,89.4 471.33,91.1 471.51,87.81 471.69,90.85 471.87,88.48 472.05,87.58 472.23,88.66 472.41,88.46 472.59,93.41 472.77,93.81 472.95,92 473.13,89.14 473.31,86.45 473.49,93.58 473.67,89.58 473.85,92.61 474.03,92.3 474.21,91.1 474.39,88.57 474.57,89.82 474.75,87.29 474.93,92.96 475.11,88.05 475.29,87.95 475.47,90.2 475.65,89.13 475.83,91.85 476,93.23 476.18,91.44 476.36,92.06 476.54,82.82 476.72,91.65 476.9,86.06 477.08,89.85 477.26,89.56 477.44,88.44 477.62,92.42 477.8,87.98 477.98,89.4 478.16,94.35 478.34,88.81 478.52,88.93 478.7,89.2 478.88,86.23 479.06,91.46 479.24,89.04 479.42,88.42 479.6,92.74 479.78,87.24 479.96,94.17 480.14,93.78 480.32,89.01 480.5,93.23 480.68,90.68 480.86,94.68 481.04,90.2 481.22,93.35 481.4,89.49 481.58,94.39 481.76,89.21 481.94,91.08 482.11,90.21 482.29,90.56 482.47,90.04 482.65,93.84 482.83,97.09 483.01,90.29 483.19,92.83 483.37,91.57 483.55,89.26 483.73,95.57 483.91,92.38 484.09,91.98 484.27,93.15 484.45,89.53 484.63,90.75 484.81,92.53 484.99,92.96 485.17,88.27 485.35,92.11 485.53,88.85 485.71,89.2 485.89,95.33 486.07,93.21 486.25,90.37 486.43,89.49 486.61,88.34 486.79,88.28 486.97,87.67 487.15,91.36 487.33,90.93 487.51,88.35 487.69,91.49 487.87,87.62 488.04,94.54 488.22,88.67 488.4,90.83 488.58,95.53 488.76,87.82 488.94,89.57 489.12,90.33 489.3,93.2 489.48,91.6 489.66,86.43 489.84,92.54 490.02,99.46 490.2,92.62 490.38,93.52 490.56,90.73 490.74,91.41 490.92,92.77 491.1,92.58 491.28,87.64 491.46,94.15 491.64,85.26 491.82,91.8 492,93.24 492.18,88.32 492.36,88.9 492.54,93.11 492.72,88.42 492.9,95.19 493.08,92.8 493.26,87.43 493.44,91.05 493.62,93.79 493.8,89.04 493.97,87.98 494.15,90.44 494.33,95.11 494.51,91.29 494.69,89.29 494.87,88.37 495.05,85.53 495.23,91.04 495.41,91.64 495.59,90.48 495.77,87.22 495.95,92.84 496.13,86.97 496.31,97.57 496.49,88.29 496.67,92.15 496.85,89.18 497.03,88.58 497.21,93.47 497.39,90.61 497.57,89.75 497.75,88.84 497.93,92.81 498.11,92.97 498.29,95.41 498.47,83.74 498.65,90.88 498.83,90.96 499.01,94.29 499.19,87.95 499.37,91.78 499.55,86.62 499.73,88.15 499.91,90.33 500.08,88.48 500.26,93.29 500.44,91.23 500.62,91.89 500.8,93.7 500.98,90.34 501.16,90.76 501.34,86.62 501.52,99.15 501.7,92.14 501.88,92.78 502.06,91.59 502.24,89.28 502.42,89.32 502.6,90.31 502.78,91.62 502.96,89.09 503.14,89.44 503.32,95.2 503.5,91.07 503.68,93.98 503.86,93.47 504.04,90 504.22,90.22 504.4,90.08 504.58,92.67 504.76,90.91 504.94,92.77 505.12,89.38 505.3,88.58 505.48,85.79 505.66,87.07 505.84,92.49 506.01,91.58 506.19,92.84 506.37,89.58 506.55,85.2 506.73,88.53 506.91,96.13 507.09,93.67 507.27,93.76 507.45,89.03 507.63,90.38 507.81,89.6 507.99,85.72 508.17,92.54 508.35,92.6 508.53,85.24 508.71,89.48 508.89,92.42 509.07,95.69 509.25,94.37 509.43,96.77 509.61,90.2 509.79,90.26 509.97,87.78 510.15,90.74 510.33,92.19 510.51,92.32 510.69,85.41 510.87,95 511.05,89.93 511.23,90.31 511.41,88.77 511.59,91.44 511.77,89.07" fill="none" stroke="#f23c1c" stroke-width="0.9" stroke-linejoin="round"/>
<line x1="434.4" y1="39.3" x2="451.8" y2="39.3" stroke="#666" stroke-width="0.9"/>
<line x1="434.4" y1="48.6" x2="451.8" y2="48.6" stroke="#f5694d" stroke-width="0.9"/>
<g font-size="8" fill="#2a2a2a" stroke="#2a2a2a" stroke-width="0.15">
<text x="453.6" y="41.8">retrace</text>
<text x="453.6" y="51.2">trace</text>
</g>

<!-- ================= PANEL C ================= -->
<text x="252.8" y="263.6" font-size="27.5" fill="#1a1010">c</text>
<rect x="295.5" y="244.5" width="252" height="187" fill="none" stroke="#4d4542" stroke-width="1"/>
<path d="M295.5,408.5 h3.5 M547.5,408.5 h-3.5 M295.5,384.5 h2 M547.5,384.5 h-2 M295.5,361.5 h3.5 M547.5,361.5 h-3.5 M295.5,337.5 h2 M547.5,337.5 h-2 M295.5,314.5 h3.5 M547.5,314.5 h-3.5 M295.5,291.5 h2 M547.5,291.5 h-2 M295.5,267.5 h3.5 M547.5,267.5 h-3.5 M342.5,431.5 v-3.5 M342.5,244.5 v3.5 M389.5,431.5 v-2 M389.5,244.5 v2 M436.5,431.5 v-3.5 M436.5,244.5 v3.5 M482.5,431.5 v-2 M482.5,244.5 v2 M529.5,431.5 v-3.5 M529.5,244.5 v3.5" stroke="#4d4845" stroke-width="1" fill="none"/>
<g font-size="8" fill="#3a3a3a" stroke="#3a3a3a" stroke-width="0.15" text-anchor="end">
<text x="291.6" y="270.4">0.03</text>
<text x="291.6" y="317.1">0.02</text>
<text x="291.6" y="363.8">0.01</text>
<text x="291.6" y="410.6">0.00</text>
</g>
<g font-size="8" fill="#3a3a3a" stroke="#3a3a3a" stroke-width="0.15" text-anchor="middle">
<text x="342.3" y="440.9">0</text>
<text x="436" y="440.9">50</text>
<text x="529.8" y="440.9">100</text>
</g>
<text x="422.2" y="456" font-size="9.2" fill="#2a2a2a" stroke="#2a2a2a" stroke-width="0.15" text-anchor="middle">Unbinding force [pN]</text>
<text transform="translate(263.2,344.3) rotate(-90)" font-size="9.2" fill="#2a2a2a" stroke="#2a2a2a" stroke-width="0.15" text-anchor="middle">pdf [1/pN]</text>
<path d="M308.29,408 L308.76,408 L309.23,408 L309.7,408 L310.17,408 L310.64,408 L311.11,408 L311.58,408 L312.05,408 L312.52,408 L312.99,408 L313.46,408 L313.93,408 L314.4,408 L314.87,408 L315.34,408 L315.81,408 L316.28,408 L316.75,408 L317.22,408 L317.69,408 L318.15,408 L318.62,408 L319.09,408 L319.56,408 L320.03,408 L320.5,408 L320.97,408 L321.44,407.99 L321.91,407.99 L322.38,407.99 L322.85,407.99 L323.32,407.99 L323.79,407.99 L324.26,407.99 L324.73,407.99 L325.2,407.99 L325.67,407.98 L326.14,407.98 L326.61,407.98 L327.08,407.98 L327.55,407.97 L328.02,407.97 L328.49,407.97 L328.96,407.96 L329.43,407.96 L329.9,407.95 L330.37,407.95 L330.84,407.94 L331.31,407.93 L331.78,407.92 L332.25,407.91 L332.72,407.9 L333.19,407.89 L333.66,407.88 L334.13,407.86 L334.6,407.85 L335.07,407.83 L335.54,407.81 L336.01,407.79 L336.48,407.77 L336.94,407.74 L337.41,407.71 L337.88,407.68 L338.35,407.65 L338.82,407.61 L339.29,407.57 L339.76,407.53 L340.23,407.48 L340.7,407.42 L341.17,407.36 L341.64,407.3 L342.11,407.23 L342.58,407.15 L343.05,407.07 L343.52,406.98 L343.99,406.88 L344.46,406.78 L344.93,406.66 L345.4,406.54 L345.87,406.4 L346.34,406.25 L346.81,406.1 L347.28,405.93 L347.75,405.74 L348.22,405.55 L348.69,405.33 L349.16,405.11 L349.63,404.86 L350.1,404.6 L350.57,404.32 L351.04,404.02 L351.51,403.7 L351.98,403.36 L352.45,402.99 L352.92,402.6 L353.39,402.19 L353.86,401.75 L354.33,401.28 L354.8,400.79 L355.27,400.26 L355.73,399.71 L356.2,399.12 L356.67,398.5 L357.14,397.85 L357.61,397.16 L358.08,396.44 L358.55,395.67 L359.02,394.87 L359.49,394.03 L359.96,393.15 L360.43,392.23 L360.9,391.27 L361.37,390.26 L361.84,389.21 L362.31,388.12 L362.78,386.98 L363.25,385.79 L363.72,384.56 L364.19,383.29 L364.66,381.97 L365.13,380.6 L365.6,379.18 L366.07,377.72 L366.54,376.21 L367.01,374.66 L367.48,373.06 L367.95,371.42 L368.42,369.73 L368.89,368 L369.36,366.23 L369.83,364.42 L370.3,362.57 L370.77,360.68 L371.24,358.76 L371.71,356.8 L372.18,354.81 L372.65,352.78 L373.12,350.73 L373.59,348.66 L374.06,346.55 L374.52,344.43 L374.99,342.29 L375.46,340.13 L375.93,337.95 L376.4,335.77 L376.87,333.58 L377.34,331.38 L377.81,329.18 L378.28,326.98 L378.75,324.79 L379.22,322.6 L379.69,320.42 L380.16,318.25 L380.63,316.1 L381.1,313.97 L381.57,311.86 L382.04,309.78 L382.51,307.72 L382.98,305.7 L383.45,303.7 L383.92,301.75 L384.39,299.83 L384.86,297.95 L385.33,296.12 L385.8,294.33 L386.27,292.59 L386.74,290.89 L387.21,289.25 L387.68,287.66 L388.15,286.13 L388.62,284.65 L389.09,283.22 L389.56,281.86 L390.03,280.55 L390.5,279.3 L390.97,278.11 L391.44,276.98 L391.91,275.91 L392.38,274.91 L392.85,273.96 L393.31,273.07 L393.78,272.24 L394.25,271.48 L394.72,270.77 L395.19,270.12 L395.66,269.52 L396.13,268.99 L396.6,268.51 L397.07,268.08 L397.54,267.71 L398.01,267.4 L398.48,267.13 L398.95,266.92 L399.42,266.75 L399.89,266.64 L400.36,266.57 L400.83,266.55 L401.3,266.57 L401.77,266.64 L402.24,266.75 L402.71,266.9 L403.18,267.09 L403.65,267.33 L404.12,267.6 L404.59,267.9 L405.06,268.25 L405.53,268.63 L406,269.04 L406.47,269.49 L406.94,269.98 L407.41,270.49 L407.88,271.04 L408.35,271.62 L408.82,272.23 L409.29,272.88 L409.76,273.55 L410.23,274.25 L410.7,274.99 L411.17,275.75 L411.64,276.54 L412.1,277.36 L412.57,278.21 L413.04,279.09 L413.51,279.99 L413.98,280.93 L414.45,281.89 L414.92,282.88 L415.39,283.9 L415.86,284.94 L416.33,286.02 L416.8,287.11 L417.27,288.24 L417.74,289.39 L418.21,290.57 L418.68,291.77 L419.15,293 L419.62,294.26 L420.09,295.53 L420.56,296.84 L421.03,298.16 L421.5,299.51 L421.97,300.87 L422.44,302.26 L422.91,303.67 L423.38,305.1 L423.85,306.54 L424.32,308.01 L424.79,309.48 L425.26,310.98 L425.73,312.48 L426.2,314 L426.67,315.53 L427.14,317.08 L427.61,318.63 L428.08,320.18 L428.55,321.75 L429.02,323.31 L429.49,324.88 L429.96,326.46 L430.43,328.03 L430.89,329.6 L431.36,331.17 L431.83,332.74 L432.3,334.3 L432.77,335.85 L433.24,337.39 L433.71,338.93 L434.18,340.45 L434.65,341.97 L435.12,343.46 L435.59,344.95 L436.06,346.41 L436.53,347.86 L437,349.3 L437.47,350.71 L437.94,352.1 L438.41,353.47 L438.88,354.82 L439.35,356.14 L439.82,357.44 L440.29,358.71 L440.76,359.96 L441.23,361.19 L441.7,362.38 L442.17,363.55 L442.64,364.69 L443.11,365.81 L443.58,366.89 L444.05,367.95 L444.52,368.98 L444.99,369.98 L445.46,370.95 L445.93,371.89 L446.4,372.81 L446.87,373.69 L447.34,374.55 L447.81,375.38 L448.28,376.18 L448.75,376.96 L449.22,377.71 L449.68,378.43 L450.15,379.13 L450.62,379.81 L451.09,380.46 L451.56,381.08 L452.03,381.69 L452.5,382.27 L452.97,382.83 L453.44,383.37 L453.91,383.89 L454.38,384.39 L454.85,384.87 L455.32,385.34 L455.79,385.79 L456.26,386.22 L456.73,386.64 L457.2,387.04 L457.67,387.44 L458.14,387.82 L458.61,388.18 L459.08,388.54 L459.55,388.89 L460.02,389.23 L460.49,389.56 L460.96,389.88 L461.43,390.19 L461.9,390.5 L462.37,390.8 L462.84,391.1 L463.31,391.39 L463.78,391.68 L464.25,391.97 L464.72,392.25 L465.19,392.53 L465.66,392.8 L466.13,393.08 L466.6,393.35 L467.07,393.62 L467.54,393.89 L468.01,394.16 L468.47,394.43 L468.94,394.69 L469.41,394.96 L469.88,395.23 L470.35,395.5 L470.82,395.76 L471.29,396.03 L471.76,396.29 L472.23,396.56 L472.7,396.83 L473.17,397.09 L473.64,397.36 L474.11,397.62 L474.58,397.88 L475.05,398.14 L475.52,398.41 L475.99,398.67 L476.46,398.93 L476.93,399.18 L477.4,399.44 L477.87,399.69 L478.34,399.94 L478.81,400.19 L479.28,400.44 L479.75,400.68 L480.22,400.92 L480.69,401.16 L481.16,401.4 L481.63,401.63 L482.1,401.86 L482.57,402.08 L483.04,402.3 L483.51,402.52 L483.98,402.73 L484.45,402.94 L484.92,403.14 L485.39,403.34 L485.86,403.53 L486.33,403.72 L486.8,403.91 L487.26,404.09 L487.73,404.26 L488.2,404.43 L488.67,404.6 L489.14,404.76 L489.61,404.91 L490.08,405.06 L490.55,405.21 L491.02,405.35 L491.49,405.48 L491.96,405.61 L492.43,405.74 L492.9,405.86 L493.37,405.97 L493.84,406.08 L494.31,406.19 L494.78,406.29 L495.25,406.39 L495.72,406.48 L496.19,406.57 L496.66,406.65 L497.13,406.74 L497.6,406.81 L498.07,406.89 L498.54,406.96 L499.01,407.02 L499.48,407.08 L499.95,407.14 L500.42,407.2 L500.89,407.25 L501.36,407.3 L501.83,407.35 L502.3,407.4 L502.77,407.44 L503.24,407.48 L503.71,407.51 L504.18,407.55 L504.65,407.58 L505.12,407.61 L505.59,407.64 L506.05,407.67 L506.52,407.69 L506.99,407.72 L507.46,407.74 L507.93,407.76 L508.4,407.78 L508.87,407.8 L509.34,407.81 L509.81,407.83 L510.28,407.84 L510.75,407.85 L511.22,407.87 L511.69,407.88 L512.16,407.89 L512.63,407.9 L513.1,407.91 L513.57,407.92 L514.04,407.92 L514.51,407.93 L514.98,407.94 L515.45,407.94 L515.92,407.95 L516.39,407.95 L516.86,407.96 L517.33,407.96 L517.8,407.96 L518.27,407.97 L518.74,407.97 L519.21,407.97 L519.68,407.98 L520.15,407.98 L520.62,407.98 L521.09,407.98 L521.56,407.98" fill="none" stroke="#1c1212" stroke-width="1.6" stroke-linejoin="round"/>
<path d="M308.29,407.94 L308.76,407.93 L309.23,407.93 L309.7,407.93 L310.17,407.93 L310.64,407.93 L311.11,407.93 L311.58,407.93 L312.05,407.93 L312.52,407.92 L312.99,407.92 L313.46,407.92 L313.93,407.92 L314.4,407.92 L314.87,407.92 L315.34,407.92 L315.81,407.91 L316.28,407.91 L316.75,407.91 L317.22,407.91 L317.69,407.91 L318.15,407.91 L318.62,407.91 L319.09,407.9 L319.56,407.9 L320.03,407.9 L320.5,407.9 L320.97,407.9 L321.44,407.89 L321.91,407.89 L322.38,407.89 L322.85,407.89 L323.32,407.89 L323.79,407.88 L324.26,407.88 L324.73,407.88 L325.2,407.88 L325.67,407.88 L326.14,407.87 L326.61,407.87 L327.08,407.87 L327.55,407.87 L328.02,407.86 L328.49,407.86 L328.96,407.86 L329.43,407.85 L329.9,407.85 L330.37,407.85 L330.84,407.84 L331.31,407.84 L331.78,407.84 L332.25,407.83 L332.72,407.83 L333.19,407.82 L333.66,407.82 L334.13,407.81 L334.6,407.81 L335.07,407.8 L335.54,407.79 L336.01,407.79 L336.48,407.78 L336.94,407.77 L337.41,407.76 L337.88,407.75 L338.35,407.74 L338.82,407.73 L339.29,407.72 L339.76,407.71 L340.23,407.69 L340.7,407.68 L341.17,407.66 L341.64,407.65 L342.11,407.63 L342.58,407.61 L343.05,407.59 L343.52,407.57 L343.99,407.54 L344.46,407.52 L344.93,407.49 L345.4,407.46 L345.87,407.43 L346.34,407.4 L346.81,407.36 L347.28,407.33 L347.75,407.28 L348.22,407.24 L348.69,407.2 L349.16,407.15 L349.63,407.09 L350.1,407.04 L350.57,406.98 L351.04,406.92 L351.51,406.85 L351.98,406.78 L352.45,406.71 L352.92,406.63 L353.39,406.55 L353.86,406.46 L354.33,406.37 L354.8,406.28 L355.27,406.18 L355.73,406.07 L356.2,405.97 L356.67,405.85 L357.14,405.73 L357.61,405.61 L358.08,405.48 L358.55,405.34 L359.02,405.2 L359.49,405.06 L359.96,404.91 L360.43,404.75 L360.9,404.59 L361.37,404.43 L361.84,404.26 L362.31,404.08 L362.78,403.9 L363.25,403.72 L363.72,403.53 L364.19,403.33 L364.66,403.14 L365.13,402.94 L365.6,402.73 L366.07,402.52 L366.54,402.31 L367.01,402.1 L367.48,401.88 L367.95,401.67 L368.42,401.45 L368.89,401.23 L369.36,401.01 L369.83,400.78 L370.3,400.56 L370.77,400.34 L371.24,400.12 L371.71,399.91 L372.18,399.69 L372.65,399.48 L373.12,399.27 L373.59,399.06 L374.06,398.85 L374.52,398.66 L374.99,398.46 L375.46,398.27 L375.93,398.09 L376.4,397.92 L376.87,397.75 L377.34,397.58 L377.81,397.43 L378.28,397.28 L378.75,397.14 L379.22,397.01 L379.69,396.89 L380.16,396.78 L380.63,396.68 L381.1,396.59 L381.57,396.51 L382.04,396.43 L382.51,396.37 L382.98,396.32 L383.45,396.28 L383.92,396.25 L384.39,396.23 L384.86,396.22 L385.33,396.22 L385.8,396.23 L386.27,396.24 L386.74,396.27 L387.21,396.31 L387.68,396.36 L388.15,396.42 L388.62,396.49 L389.09,396.56 L389.56,396.64 L390.03,396.73 L390.5,396.83 L390.97,396.93 L391.44,397.04 L391.91,397.16 L392.38,397.28 L392.85,397.41 L393.31,397.54 L393.78,397.68 L394.25,397.81 L394.72,397.96 L395.19,398.1 L395.66,398.25 L396.13,398.4 L396.6,398.55 L397.07,398.7 L397.54,398.85 L398.01,399 L398.48,399.15 L398.95,399.3 L399.42,399.44 L399.89,399.59 L400.36,399.73 L400.83,399.88 L401.3,400.02 L401.77,400.15 L402.24,400.29 L402.71,400.42 L403.18,400.55 L403.65,400.67 L404.12,400.79 L404.59,400.91 L405.06,401.02 L405.53,401.13 L406,401.24 L406.47,401.34 L406.94,401.43 L407.41,401.53 L407.88,401.62 L408.35,401.7 L408.82,401.79 L409.29,401.87 L409.76,401.94 L410.23,402.01 L410.7,402.08 L411.17,402.15 L411.64,402.21 L412.1,402.27 L412.57,402.33 L413.04,402.38 L413.51,402.44 L413.98,402.49 L414.45,402.54 L414.92,402.58 L415.39,402.63 L415.86,402.68 L416.33,402.72 L416.8,402.76 L417.27,402.8 L417.74,402.85 L418.21,402.89 L418.68,402.93 L419.15,402.97 L419.62,403.01 L420.09,403.05 L420.56,403.09 L421.03,403.13 L421.5,403.17 L421.97,403.22 L422.44,403.26 L422.91,403.3 L423.38,403.35 L423.85,403.39 L424.32,403.44 L424.79,403.49 L425.26,403.54 L425.73,403.59 L426.2,403.64 L426.67,403.69 L427.14,403.74 L427.61,403.79 L428.08,403.85 L428.55,403.91 L429.02,403.96 L429.49,404.02 L429.96,404.08 L430.43,404.14 L430.89,404.2 L431.36,404.26 L431.83,404.32 L432.3,404.38 L432.77,404.44 L433.24,404.5 L433.71,404.57 L434.18,404.63 L434.65,404.69 L435.12,404.75 L435.59,404.82 L436.06,404.88 L436.53,404.94 L437,405.01 L437.47,405.07 L437.94,405.13 L438.41,405.19 L438.88,405.25 L439.35,405.32 L439.82,405.38 L440.29,405.43 L440.76,405.49 L441.23,405.55 L441.7,405.61 L442.17,405.66 L442.64,405.72 L443.11,405.77 L443.58,405.83 L444.05,405.88 L444.52,405.93 L444.99,405.98 L445.46,406.03 L445.93,406.08 L446.4,406.12 L446.87,406.17 L447.34,406.21 L447.81,406.26 L448.28,406.3 L448.75,406.34 L449.22,406.38 L449.68,406.42 L450.15,406.45 L450.62,406.49 L451.09,406.53 L451.56,406.56 L452.03,406.59 L452.5,406.62 L452.97,406.65 L453.44,406.68 L453.91,406.71 L454.38,406.74 L454.85,406.76 L455.32,406.79 L455.79,406.81 L456.26,406.83 L456.73,406.86 L457.2,406.88 L457.67,406.9 L458.14,406.92 L458.61,406.93 L459.08,406.95 L459.55,406.97 L460.02,406.99 L460.49,407 L460.96,407.02 L461.43,407.03 L461.9,407.04 L462.37,407.06 L462.84,407.07 L463.31,407.08 L463.78,407.09 L464.25,407.1 L464.72,407.11 L465.19,407.12 L465.66,407.13 L466.13,407.14 L466.6,407.15 L467.07,407.16 L467.54,407.17 L468.01,407.18 L468.47,407.18 L468.94,407.19 L469.41,407.2 L469.88,407.21 L470.35,407.21 L470.82,407.22 L471.29,407.23 L471.76,407.23 L472.23,407.24 L472.7,407.24 L473.17,407.25 L473.64,407.25 L474.11,407.26 L474.58,407.26 L475.05,407.27 L475.52,407.27 L475.99,407.28 L476.46,407.28 L476.93,407.29 L477.4,407.29 L477.87,407.3 L478.34,407.3 L478.81,407.31 L479.28,407.31 L479.75,407.32 L480.22,407.32 L480.69,407.33 L481.16,407.33 L481.63,407.33 L482.1,407.34 L482.57,407.34 L483.04,407.35 L483.51,407.35 L483.98,407.36 L484.45,407.36 L484.92,407.36 L485.39,407.37 L485.86,407.37 L486.33,407.38 L486.8,407.38 L487.26,407.39 L487.73,407.39 L488.2,407.39 L488.67,407.4 L489.14,407.4 L489.61,407.41 L490.08,407.41 L490.55,407.41 L491.02,407.42 L491.49,407.42 L491.96,407.43 L492.43,407.43 L492.9,407.44 L493.37,407.44 L493.84,407.44 L494.31,407.45 L494.78,407.45 L495.25,407.46 L495.72,407.46 L496.19,407.47 L496.66,407.47 L497.13,407.47 L497.6,407.48 L498.07,407.48 L498.54,407.49 L499.01,407.49 L499.48,407.5 L499.95,407.5 L500.42,407.5 L500.89,407.51" fill="none" stroke="#f53c1a" stroke-width="1.7" stroke-linejoin="round"/>

</svg>
</body></html>
